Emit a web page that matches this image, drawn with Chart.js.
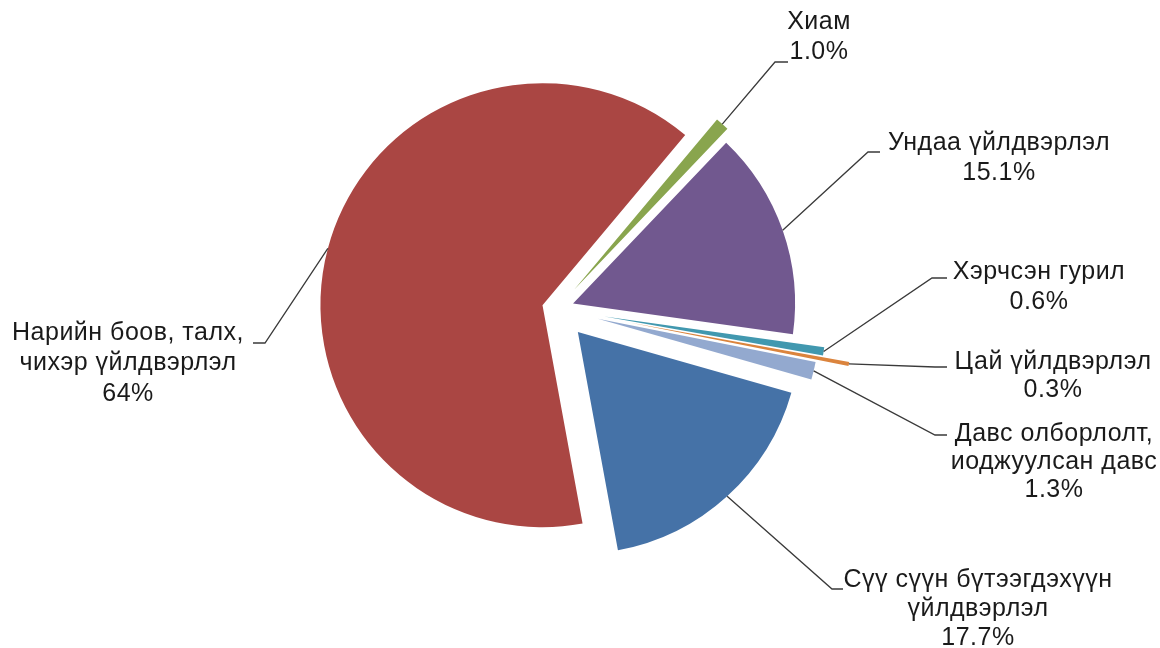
<!DOCTYPE html>
<html>
<head>
<meta charset="utf-8">
<script src="https://cdn.jsdelivr.net/npm/chart.js@4.4.0/dist/chart.umd.min.js"></script>
<style>
  html, body { margin: 0; padding: 0; background: #fff; }
  #wrap { width: 1160px; height: 648px; position: relative; }
</style>
</head>
<body>
<div id="wrap"><canvas id="myChart"></canvas></div>
<script>
// categories (one entry per slice, split into label lines)
var labels = [
    ['Хиам'],
    ['Ундаа үйлдвэрлэл'],
    ['Хэрчсэн гурил'],
    ['Цай үйлдвэрлэл'],
    ['Давс олборлолт,', 'иоджуулсан давс'],
    ['Сүү сүүн бүтээгдэхүүн', 'үйлдвэрлэл'],
    ['Нарийн боов, талх,', 'чихэр үйлдвэрлэл']
];
// share of each branch, %
var shares = [1.0, 15.1, 0.6, 0.3, 1.3, 17.7, 64];

var colors = ['#89A54E', '#71588F', '#4198AF', '#DB843D', '#93A9CF', '#4572A7', '#AA4643'];

// how far each slice is pulled out of the pie, px
var explode = [26, 17, 48, 75, 42, 31, 15];

// leader line elbow / end, text centre x, first line y, line height
var callouts = [
    {elbow: [775, 62],  end: [788, 62],  tx: 819,  ty: 22,  lh: 30},
    {elbow: [868, 152], end: [880, 152], tx: 999,  ty: 143, lh: 30},
    {elbow: [932, 278], end: [947, 278], tx: 1039, ty: 272, lh: 30},
    {elbow: [935, 367], end: [947, 367], tx: 1053, ty: 362, lh: 28},
    {elbow: [935, 435], end: [947, 435], tx: 1054, ty: 434, lh: 28},
    {elbow: [832, 589], end: [843, 589], tx: 978,  ty: 580, lh: 29},
    {elbow: [265, 343], end: [253, 343], tx: 128,  ty: 333, lh: 30.5}
];

function pct(v) {
    return (Number.isInteger(v) && v >= 10 ? v : v.toFixed(1)) + '%';
}

var callout = {
    id: 'callout',
    // pull the slices out along their middle angle
    afterDatasetUpdate: function(chart, args) {
        args.meta.data.forEach(function(arc, i) {
            var mid = (arc.startAngle + arc.endAngle) / 2;
            arc.x += Math.cos(mid) * explode[i];
            arc.y += Math.sin(mid) * explode[i];
        });
    },
    afterDatasetsDraw: function(chart) {
        var ctx = chart.ctx;
        var arcs = chart.getDatasetMeta(0).data;
        ctx.save();
        arcs.forEach(function(arc, i) {
            var c = callouts[i];
            var mid = (arc.startAngle + arc.endAngle) / 2;
            var sx = arc.x + Math.cos(mid) * arc.outerRadius;
            var sy = arc.y + Math.sin(mid) * arc.outerRadius;
            ctx.strokeStyle = '#3a3a3a';
            ctx.lineWidth = 1.3;
            ctx.beginPath();
            ctx.moveTo(sx, sy);
            ctx.lineTo(c.elbow[0], c.elbow[1]);
            ctx.lineTo(c.end[0], c.end[1]);
            ctx.stroke();

            var lines = labels[i].concat([pct(shares[i])]);
            ctx.fillStyle = '#1a1a1a';
            ctx.font = '25px "Liberation Sans", Arial, sans-serif';
            ctx.letterSpacing = '0.5px';
            ctx.textAlign = 'center';
            ctx.textBaseline = 'middle';
            lines.forEach(function(t, k) {
                ctx.fillText(t, c.tx, c.ty + k * c.lh);
            });
        });
        ctx.restore();
    }
};

var ctx = document.getElementById('myChart').getContext('2d');
var chart = new Chart(ctx, {
    type: 'pie',
    data: {
        labels: labels,
        datasets: [{
            data: shares,
            backgroundColor: colors,
            borderWidth: 0
        }]
    },
    options: {
        responsive: true,
        maintainAspectRatio: false,
        animation: false,
        rotation: 40,
        radius: 222,
        layout: { padding: { left: 0, right: 46, top: 0, bottom: 30 } },
        plugins: {
            legend: { display: false },
            tooltip: { enabled: false }
        }
    },
    plugins: [callout]
});
</script>
</body>
</html>
